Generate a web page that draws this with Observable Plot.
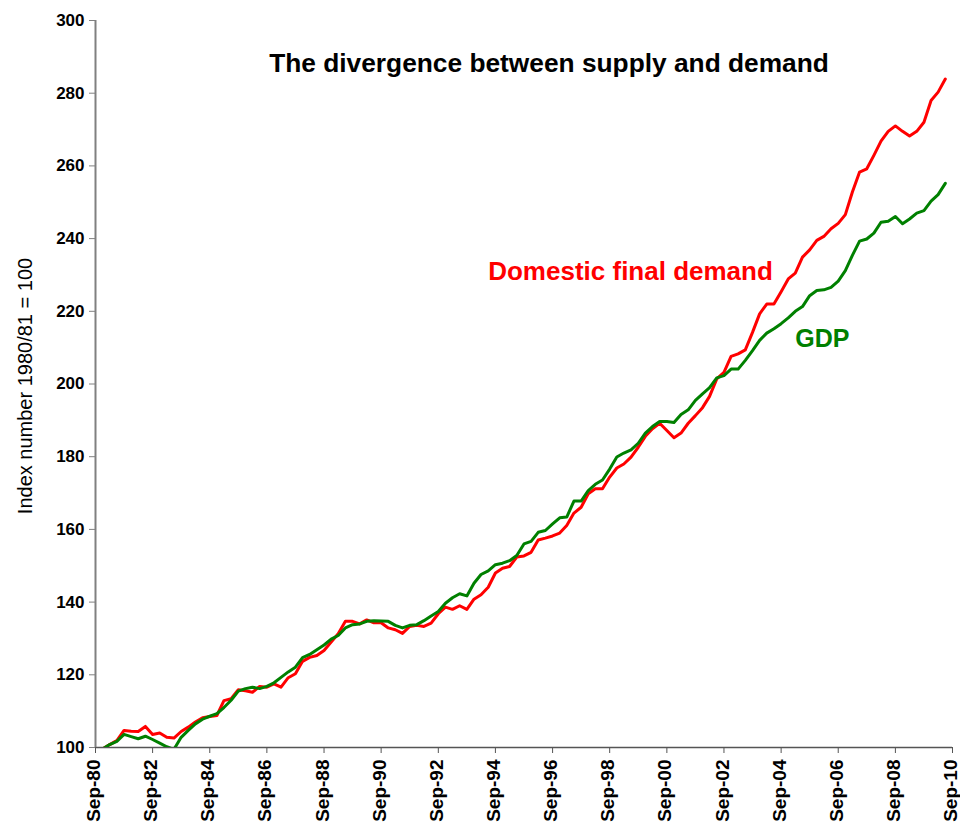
<!DOCTYPE html>
<html>
<head>
<meta charset="utf-8">
<script src="https://cdn.jsdelivr.net/npm/d3@7"></script>
<script src="https://cdn.jsdelivr.net/npm/@observablehq/plot@0.6"></script>
<style>
  html, body { margin: 0; padding: 0; background: #fff; }
  #chart svg { font-family: "Liberation Sans", Arial, sans-serif; overflow: visible; }
</style>
</head>
<body>
<div id="chart"></div>
<script>
// ---- data (quarterly, Sep-80 .. Jun-10; index 1980/81 = 100) ----
const firstQuarter = "Sep-80";
const domesticFinalDemand = [
  98.0, 99.6, 100.8, 101.9, 104.7, 104.5, 104.4, 105.8, 103.6, 104.0,
  102.8, 102.6, 104.4, 105.6, 107.0, 108.2, 108.5, 108.8, 112.9, 113.4,
  115.9, 115.6, 115.2, 116.8, 116.6, 117.5, 116.6, 119.2, 120.3, 123.7,
  124.8, 125.3, 126.7, 129.0, 131.3, 134.7, 134.7, 134.0, 135.1, 134.3,
  134.3, 132.9, 132.4, 131.4, 133.3, 133.6, 133.3, 134.2, 136.8, 138.6,
  138.0, 139.0, 138.0, 140.8, 142.0, 144.1, 148.0, 149.3, 149.8, 152.4,
  152.7, 153.7, 157.1, 157.6, 158.2, 159.0, 161.1, 164.5, 166.1, 169.8,
  171.2, 171.2, 174.4, 176.9, 178.0, 179.9, 182.6, 185.6, 187.7, 189.2,
  187.2, 185.2, 186.5, 189.2, 191.3, 193.5, 196.6, 201.4, 203.2, 207.6,
  208.3, 209.4, 214.2, 219.3, 222.0, 222.0, 225.4, 228.9, 230.5, 234.9,
  236.9, 239.5, 240.6, 242.7, 244.2, 246.6, 252.8, 258.3, 259.2, 262.9,
  266.8, 269.5, 271.0, 269.5, 268.2, 269.5, 272.0, 278.0, 280.3, 283.9
];
const gdp = [
  98.3, 99.6, 100.8, 101.7, 103.6, 103.0, 102.4, 103.1, 102.2, 101.2,
  100.2, 99.5, 102.8, 104.7, 106.5, 107.8, 108.6, 109.3, 111.0, 113.0,
  115.5, 116.2, 116.6, 116.2, 116.8, 117.8, 119.3, 120.8, 122.1, 124.7,
  125.6, 126.9, 128.2, 129.8, 130.8, 132.9, 133.8, 134.0, 134.7, 134.9,
  134.8, 134.7, 133.6, 132.9, 133.6, 133.8, 134.9, 136.2, 137.4, 139.7,
  141.2, 142.3, 141.7, 145.2, 147.6, 148.6, 150.3, 150.7, 151.4, 152.8,
  156.0, 156.7, 159.2, 159.7, 161.5, 163.2, 163.4, 167.8, 167.8, 170.7,
  172.4, 173.6, 176.6, 179.9, 181.0, 181.9, 183.7, 186.5, 188.3, 189.7,
  189.7, 189.4, 191.6, 192.9, 195.5, 197.3, 199.0, 201.7, 202.3, 204.1,
  204.1, 206.5, 209.2, 212.0, 214.0, 215.2, 216.6, 218.2, 220.0, 221.3,
  224.3, 225.7, 225.9, 226.6, 228.3, 231.2, 235.4, 239.3, 239.9, 241.5,
  244.5, 244.8, 246.1, 244.1, 245.4, 247.0, 247.7, 250.3, 252.1, 255.2
];
const seriesNames = ["Domestic final demand", "GDP"];
const xTickLabels = ["Sep-80","Sep-82","Sep-84","Sep-86","Sep-88","Sep-90","Sep-92","Sep-94",
                     "Sep-96","Sep-98","Sep-00","Sep-02","Sep-04","Sep-06","Sep-08","Sep-10"];
const yTicks = [100, 120, 140, 160, 180, 200, 220, 240, 260, 280, 300];
const titleText = "The divergence between supply and demand";
const yLabelText = "Index number 1980/81 = 100";

// ---- build table ----
const parseQ = d3.utcParse("%b-%y");
const start = parseQ(firstQuarter);
const quarterDate = i => d3.utcMonth.offset(start, 3 * i);
const rows = [
  ...domesticFinalDemand.map((v, i) => ({date: quarterDate(i), value: v, series: seriesNames[0]})),
  ...gdp.map((v, i) => ({date: quarterDate(i), value: v, series: seriesNames[1]}))
];
const tickDates = xTickLabels.map(parseQ);
const colors = {[seriesNames[0]]: "#ff0000", [seriesNames[1]]: "#008000"};

const chart = Plot.plot({
  width: 960,
  height: 827,
  marginLeft: 95,
  marginRight: 8,
  marginTop: 20,
  marginBottom: 80,
  style: {background: "#fff", overflow: "visible"},
  x: {type: "utc", domain: [tickDates[0], tickDates[tickDates.length - 1]]},
  y: {domain: [100, 300]},
  color: {domain: seriesNames, range: seriesNames.map(s => colors[s])},
  marks: [
    Plot.axisY({ticks: yTicks, tickSize: 6, tickPadding: 5, fontSize: 17, fontWeight: "bold",
                stroke: "#808080", fill: "#000", label: null}),
    Plot.axisX({ticks: tickDates, tickSize: 6, stroke: "#555", text: null, label: null}),
    Plot.axisX({ticks: tickDates, tickFormat: d3.utcFormat("%b-%y"), tickRotate: -90,
                tickSize: 6, tickPadding: 6, fontSize: 19, fontWeight: "bold", dx: -1.5,
                strokeOpacity: 0, fill: "#000", label: null}),
    Plot.ruleY([100], {stroke: "#555", strokeWidth: 1.5}),
    Plot.ruleX([tickDates[0]], {stroke: "#808080", strokeWidth: 2}),
    Plot.lineY(rows, {x: "date", y: "value", z: "series", stroke: "series",
                      strokeWidth: 3, clip: true}),
    Plot.text([titleText], {frameAnchor: "top", dx: 25, dy: 43, lineAnchor: "middle",
                            fontSize: 26.3, fontWeight: "bold", fill: "#000"}),
    Plot.text([yLabelText], {frameAnchor: "left", dx: -70, dy: 2, rotate: -90,
                             textAnchor: "middle", lineAnchor: "middle", fontSize: 20, fill: "#000"}),
    Plot.text([seriesNames[0]], {x: [quarterDate(55)], y: [231], textAnchor: "start",
                                 lineAnchor: "middle", fontSize: 26, fontWeight: "bold", fill: colors[seriesNames[0]]}),
    Plot.text([seriesNames[1]], {x: [quarterDate(98)], y: [212.5], textAnchor: "start",
                                 lineAnchor: "middle", fontSize: 25, fontWeight: "bold", fill: colors[seriesNames[1]]})
  ]
});
document.getElementById("chart").appendChild(chart);
</script>
</body>
</html>
